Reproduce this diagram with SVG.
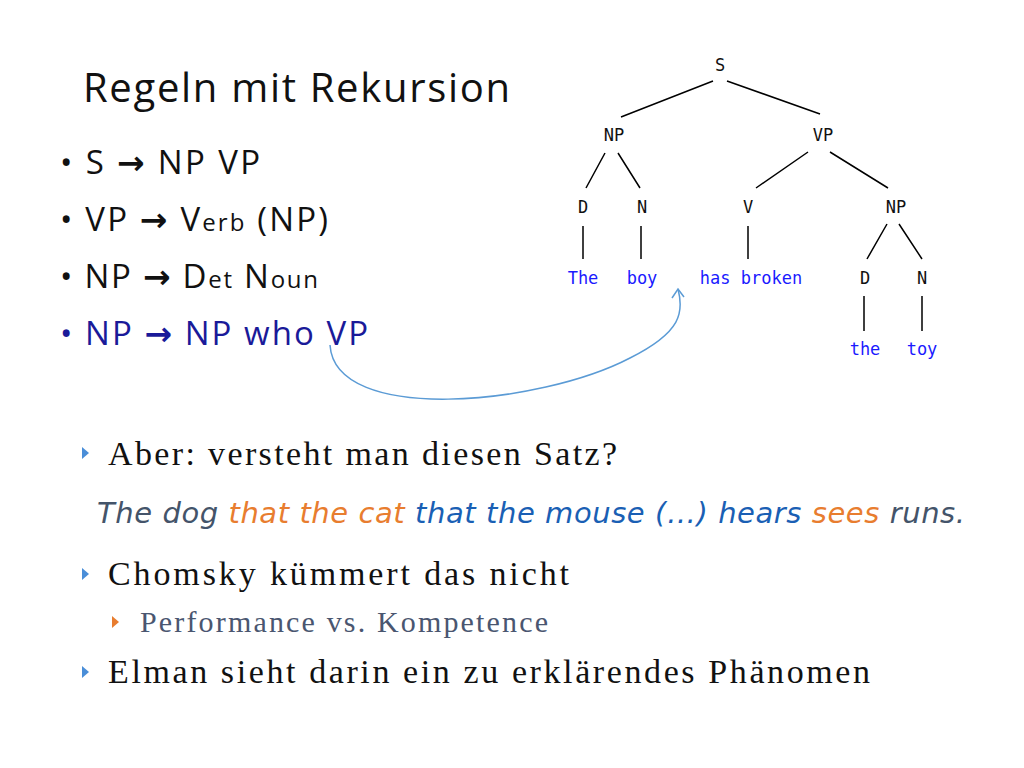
<svg xmlns="http://www.w3.org/2000/svg" width="1024" height="768" viewBox="0 0 1024 768">
<style>
.s{font-family:"Open Sans","Liberation Sans",sans-serif}
.r{font-family:"Liberation Serif",serif}
.t{font-family:"DejaVu Sans Mono","Liberation Mono",monospace;font-size:17px;text-anchor:middle}
.cat{fill:#111}
.leaf{fill:#1a1aff}
.e{stroke:#000;stroke-width:1.5;fill:none}
.tri{fill:#4a8ed8}
.ar{font-weight:bold;font-family:"DejaVu Sans",sans-serif}
</style>
<rect width="1024" height="768" fill="#fff"/>
<text class="s" x="83" y="102" font-size="40" fill="#111" textLength="427">Regeln mit Rekursion</text>
<g class="s" font-size="33" fill="#111">
<text x="60" y="174" textLength="200">• S <tspan class="ar">→</tspan> NP VP</text>
<text x="60" y="231" textLength="268">• VP <tspan class="ar">→</tspan> V<tspan font-size="24">erb</tspan> (NP)</text>
<text x="60" y="288" textLength="258">• NP <tspan class="ar">→</tspan> D<tspan font-size="24">et</tspan> N<tspan font-size="24">oun</tspan></text>
<text x="60" y="345" fill="#1a1a99" textLength="308">• NP <tspan class="ar">→</tspan> NP who VP</text>
</g>
<g id="tree">
<g class="t cat">
<text x="720" y="71">S</text>
<text x="614" y="141">NP</text>
<text x="823" y="141">VP</text>
<text x="583" y="213">D</text>
<text x="642" y="213">N</text>
<text x="748" y="213">V</text>
<text x="896" y="213">NP</text>
<text x="865" y="284">D</text>
<text x="922" y="284">N</text>
</g>
<g class="t leaf">
<text x="583" y="284">The</text>
<text x="642" y="284">boy</text>
<text x="751" y="284">has broken</text>
<text x="865" y="355">the</text>
<text x="922" y="355">toy</text>
</g>
</g>
<g id="connectors">
<path class="e" d="M713,81 L621,117 M727,81 L820,114 M605,153 L586,188 M618,153 L640,188 M808,152 L756,188 M830,152 L888,188 M583,226 L583,259 M641,226 L641,259 M748,226 L748,259 M887,224 L867,259 M899,224 L922,259 M864,296 L864,331 M922,296 L922,331"/>
<path d="M330,345 C335,425 540,405 630,358 C682,332 684,312 678,289" fill="none" stroke="#5b9bd5" stroke-width="1.5"/>
<path d="M672,298 L678,289 L684,297" fill="none" stroke="#5b9bd5" stroke-width="1.5"/>
</g>
<g class="r" font-size="34" fill="#111">
<path class="tri" d="M82,447 L89,453 L82,459Z"/>
<text x="108" y="465" textLength="509">Aber: versteht man diesen Satz?</text>
<path class="tri" d="M82,568 L89,574 L82,580Z"/>
<text x="108" y="585" textLength="461">Chomsky kümmert das nicht</text>
<path d="M112,616 L119,622 L112,628Z" fill="#e87d2f"/>
<text x="140" y="632" font-size="30" fill="#4a5670" textLength="408">Performance vs. Kompetence</text>
<path class="tri" d="M82,666 L89,672 L82,678Z"/>
<text x="108" y="683" textLength="762">Elman sieht darin ein zu erklärendes Phänomen</text>
</g>
<text font-family="DejaVu Sans,Verdana,sans-serif" font-style="italic" font-size="29" x="97" y="523" textLength="868" fill="#44546a">The dog <tspan fill="#e87d2f">that the cat</tspan> <tspan fill="#1a5fb4">that the mouse (…) hears</tspan> <tspan fill="#e87d2f">sees</tspan> runs.</text>
</svg>
